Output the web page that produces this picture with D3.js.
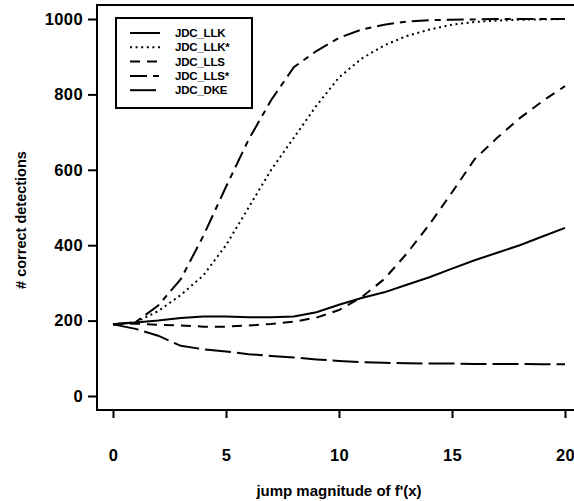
<!DOCTYPE html>
<html><head><meta charset="utf-8">
<script src="https://cdn.jsdelivr.net/npm/d3@7"></script>
<style>
body{margin:0;background:#fff;}
svg{display:block;}
text{font-family:"Liberation Sans",Arial,Helvetica,sans-serif;font-weight:bold;fill:#000;}
</style></head>
<body>
<svg id="chart" width="574" height="501"></svg>
<script>
const xValues = [0,1,2,3,4,5,6,7,8,9,10,11,12,13,14,15,16,17,18,19,20];
const seriesNames = ["JDC_LLK","JDC_LLK*","JDC_LLS","JDC_LLS*","JDC_DKE"];
const llk     = [190,195,200,207,211,211,209,209,211,222,242,260,275,295,315,338,360,380,400,423,446];
const llkStar = [190,196,225,268,320,400,500,600,685,770,845,895,930,955,972,985,992,996,998,999,1000];
const lls     = [190,192,189,187,184,184,187,191,197,208,228,262,310,378,455,540,628,685,737,782,822];
const llsStar = [190,196,240,310,425,555,680,785,872,915,950,972,985,993,997,998,999,1000,1000,1000,1000];
const dke     = [190,178,160,133,124,118,111,106,102,97,93,90,88,87,86,86,85,85,85,84,84];
const xTicks = [0,5,10,15,20];
const yTicks = [0,200,400,600,800,1000];
const xLabel = "jump magnitude of f'(x)";
const yLabel = "# correct detections";

(function(){
const series = [llk, llkStar, lls, llsStar, dke];
const dashes = ["none","2,3.6","10,7","17,6,6,6","26,6"];

const svg = d3.select("#chart");
const pL = 97, pT = 5, pB = 410, pR = 590;
const x = d3.scaleLinear().domain([0,20]).range([113,565]);
const y = d3.scaleLinear().domain([0,1000]).range([396,19]);

svg.append("rect").attr("x",pL).attr("y",pT).attr("width",pR-pL).attr("height",pB-pT)
  .attr("fill","none").attr("stroke","#000").attr("stroke-width",2);

const yAxis = d3.axisLeft(y).tickValues(yTicks).tickSize(9).tickPadding(5).tickFormat(d3.format("d"));
const gy = svg.append("g").attr("transform",`translate(${pL},0)`).call(yAxis);
gy.select(".domain").remove();
gy.selectAll("line").attr("stroke-width",2);
gy.selectAll("text").style("font-size","16.5px").style("letter-spacing","0.4px").style("font-family","Liberation Sans, Arial, sans-serif").style("font-weight","bold");

const xAxis = d3.axisBottom(x).tickValues(xTicks).tickSize(8).tickPadding(31).tickFormat(d3.format("d"));
const gx = svg.append("g").attr("transform",`translate(0,${pB})`).call(xAxis);
gx.select(".domain").remove();
gx.selectAll("line").attr("stroke-width",2);
gx.selectAll("text").style("font-size","16.5px").style("letter-spacing","0.4px").style("font-family","Liberation Sans, Arial, sans-serif").style("font-weight","bold");

svg.append("text").attr("x",339).attr("y",496).attr("text-anchor","middle").style("font-size","15px").text(xLabel);
svg.append("text").attr("transform","translate(26,220) rotate(-90)").attr("text-anchor","middle").style("font-size","14.5px").text(yLabel);

const line = d3.line().x((d,i)=>x(xValues[i])).y(d=>y(d));
series.forEach((s,k)=>{
  svg.append("path").datum(s).attr("d",line).attr("fill","none").attr("stroke","#000")
    .attr("stroke-width",2).attr("stroke-dasharray",dashes[k]);
});

const lg = svg.append("g");
lg.append("rect").attr("x",116).attr("y",18).attr("width",136).attr("height",90)
  .attr("fill","#fff").attr("stroke","#000").attr("stroke-width",2);
seriesNames.forEach((n,k)=>{
  const yy = 33 + k*14.3;
  lg.append("line").attr("x1",130).attr("x2",160).attr("y1",yy).attr("y2",yy)
    .attr("stroke","#000").attr("stroke-width",2).attr("stroke-dasharray",dashes[k]);
  lg.append("text").attr("x",175).attr("y",yy+4).style("font-size","11.5px").style("letter-spacing","-0.2px").text(n);
});
})();
</script>
</body></html>
